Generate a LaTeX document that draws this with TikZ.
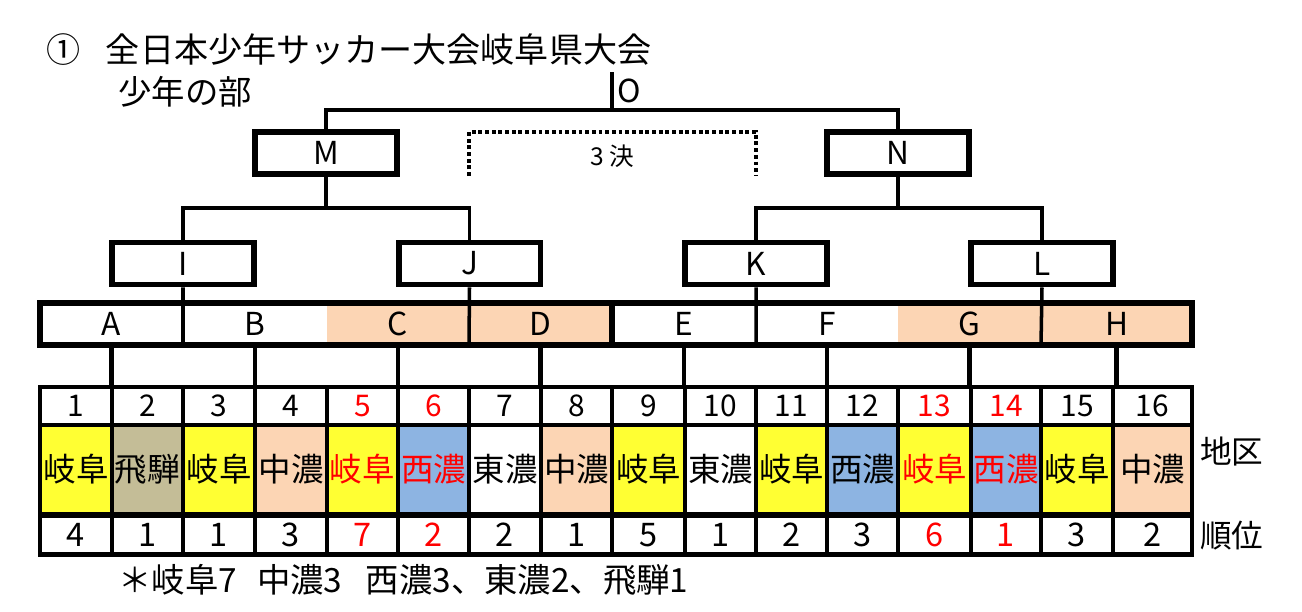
\documentclass[tikz,border=0pt]{standalone}
\usepackage{fontspec}
\setmainfont{Noto Sans CJK JP}

\definecolor{regyellow}{HTML}{FFFF33}
\definecolor{reghida}{HTML}{C4BD97}
\definecolor{regpeach}{HTML}{FCD5B4}
\definecolor{regblue}{HTML}{8DB4E2}
\definecolor{winred}{HTML}{FF0000}

\begin{document}
\begin{tikzpicture}[x=0.02cm, y=-0.02cm,
    matchbox/.style={draw, line width=3.4pt, fill=white, minimum width=2.84cm, minimum height=0.84cm, inner sep=0pt, font=\fontsize{18}{18}\selectfont},
    grpcell/.style={inner sep=0pt, outer sep=0pt, minimum height=0.84cm, font=\fontsize{18}{18}\selectfont},
    gridcell/.style={draw, line width=2.4pt, inner sep=0pt, outer sep=0pt},
    link/.style={draw, line width=2pt},
    drop/.style={draw, line width=2.8pt},
    dotbox/.style={draw, line width=2pt, dash pattern=on 2.2pt off 1.6pt},
    txt/.style={inner sep=0pt, font=\fontsize{18}{18}\selectfont}]

    \useasboundingbox (0,0) rectangle (1302,612);

    % title
    \node[txt, anchor=west, font=\fontsize{19.4}{19.4}\selectfont] (title) at (46,50) {①\hspace{0.75em}全日本少年サッカー大会岐阜県大会};
    \node[txt, anchor=west, font=\fontsize{19}{19}\selectfont] (sub) at (118,92) {少年の部};

    % final
    \coordinate (otop) at (612,72);
    \coordinate (ojoin) at (612,110);
    \node[txt] (olbl) at (629,91) {O};

    \node[matchbox] (M) at (326,153) {M};
    \node[matchbox] (N) at (898,153) {N};

    \path[link] (otop) -- (ojoin);
    \path[link] (M.north) |- (ojoin) -| (N.north);

    % third place
    \coordinate (thbl) at (469,176);
    \coordinate (thtl) at (469,132);
    \coordinate (thtr) at (756,132);
    \coordinate (thbr) at (756,176);
    \path[dotbox] (thbl) -- (thtl) -- (thtr) -- (thbr);
    \node[txt, font=\fontsize{14}{14}\selectfont] (third) at (612,156) {3 決};

    % semi finals
    \node[matchbox] (I) at (183,263.5) {I};
    \node[matchbox] (J) at (469.5,263.5) {J};
    \node[matchbox] (K) at (756,263.5) {K};
    \node[matchbox] (L) at (1042,263.5) {L};

    \coordinate (mjoin) at (326,208);
    \coordinate (njoin) at (898,208);
    \path[link] (M.south) -- (mjoin);
    \path[link] (N.south) -- (njoin);
    \path[link] (I.north) |- (mjoin) -| (J.north);
    \path[link] (K.north) |- (njoin) -| (L.north);

    % first round
    \foreach \t/\xa/\xb/\bg in {A/40/183/white, B/183/327/white, C/327/469/regpeach, D/469/612/regpeach,
                                E/612/756/white, F/756/898/white, G/898/1041/regpeach, H/1041/1192/regpeach}{
        \pgfmathsetmacro\cw{(\xb-\xa)*0.02}
        \node[grpcell, fill=\bg, minimum width=\cw cm] (\t) at ({(\xa+\xb)/2},324) {\t};
    }
    \path[link] (I.south) -- (A.south east);
    \path[link] (J.south) -- (C.south east);
    \path[link] (K.south) -- (E.south east);
    \path[link] (L.south) -- (G.south east);
    \path[draw, line width=3.4pt] (A.north west) rectangle (D.south east);
    \path[draw, line width=3.4pt] (E.north west) rectangle (H.south east);

    % teams
    \foreach \k/\xa/\xb/\reg/\bg/\rk/\tc in {
        1/40/112/岐阜/regyellow/4/black,
        2/112/183/飛騨/reghida/1/black,
        3/183/255/岐阜/regyellow/1/black,
        4/255/327/中濃/regpeach/3/black,
        5/327/398/岐阜/regyellow/7/winred,
        6/398/469/西濃/regblue/2/winred,
        7/469/541/東濃/white/2/black,
        8/541/612/中濃/regpeach/1/black,
        9/612/685/岐阜/regyellow/5/black,
        10/685/756/東濃/white/1/black,
        11/756/827/岐阜/regyellow/2/black,
        12/827/898/西濃/regblue/3/black,
        13/898/971/岐阜/regyellow/6/winred,
        14/971/1041/西濃/regblue/1/winred,
        15/1041/1113/岐阜/regyellow/3/black,
        16/1113/1192/中濃/regpeach/2/black}{
        \pgfmathsetmacro\cw{(\xb-\xa)*0.02}
        \node[gridcell, fill=white, text=\tc, minimum width=\cw cm, minimum height=0.76cm,
              font=\fontsize{17}{17}\selectfont] (num\k) at ({(\xa+\xb)/2},406) {\k};
        \node[gridcell, fill=\bg, text=\tc, minimum width=\cw cm, minimum height=1.78cm,
              font=\fontsize{18.5}{18.5}\selectfont] (reg\k) at ({(\xa+\xb)/2},469.5) {\reg};
        \node[gridcell, fill=white, text=\tc, minimum width=\cw cm, minimum height=0.78cm,
              font=\fontsize{18.5}{18.5}\selectfont] (rank\k) at ({(\xa+\xb)/2},535) {\rk};
    }

    \foreach \t/\k in {A/1, B/3, C/5, D/7, E/9, F/11, G/13, H/15}
        \path[drop] (\t.south) -- (\t.south |- num\k.north);

    \node[txt, anchor=west] (lblreg) at (1200,452) {地区};
    \node[txt, anchor=west] (lblrank) at (1200,536) {順位};

    \node[txt, anchor=west, font=\fontsize{19}{19}\selectfont] (note) at (118,580) {＊岐阜7\hspace{0.6em}中濃3\hspace{0.7em}西濃3、東濃2、飛騨1};

\end{tikzpicture}
\end{document}
